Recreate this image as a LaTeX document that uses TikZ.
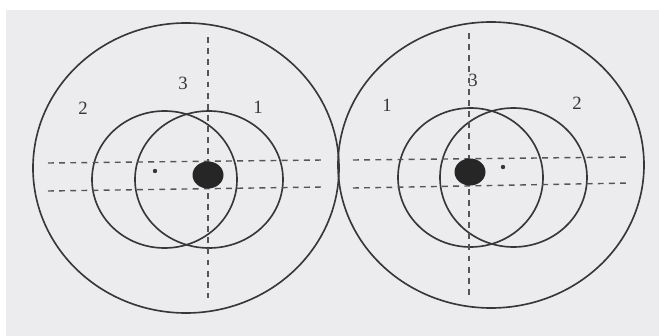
\documentclass[tikz,border=0pt]{standalone}
\usepackage{fontspec}
\setmainfont{Liberation Serif}
\usetikzlibrary{positioning}
\definecolor{paper}{RGB}{236,236,238}
\definecolor{ink}{RGB}{55,55,55}

\begin{document}
\begin{tikzpicture}[
  x=0.03cm, y=-0.03cm,
  ring/.style={ink, line width=1.4pt},
  axis/.style={ink!85, line width=1.2pt, dash pattern=on 5pt off 4.5pt},
  tag/.style={font=\fontsize{16}{18}\selectfont, text=ink, inner sep=0pt},
  core/.style={fill=black!85},
  dotmark/.style={fill=ink},
]
\useasboundingbox (0,0) rectangle (659,336);
\fill[white] (0,0) rectangle (659,336);
\fill[paper] (6,10) rectangle (659,336);

% ---------- LEFT TARGET ----------
\draw[ring] (186,168) ellipse [x radius=153, y radius=145];
\draw[ring] (164.5,179.5) ellipse [x radius=72.5, y radius=68.5];
\draw[ring] (209,179.5) ellipse [x radius=74, y radius=68.5];
\coordinate (lv1) at (208,37);  \coordinate (lv2) at (208,298);
\coordinate (lh1) at (48,163);  \coordinate (lh2) at (323,160);
\coordinate (lh3) at (48,191);  \coordinate (lh4) at (323,187);
\draw[axis] (lv1) -- (lv2);
\draw[axis] (lh1) -- (lh2);
\draw[axis] (lh3) -- (lh4);
\fill[core] (208,175) ellipse [x radius=15.5, y radius=13.5];
\fill[dotmark] (155,171) circle [radius=2.2];
\node[tag] (lthree) at (183,83) {3};
\node[tag] (ltwo) at (83,108) {2};
\node[tag] (lone) at (258,107) {1};

% ---------- RIGHT TARGET ----------
\draw[ring] (491,165) ellipse [x radius=153, y radius=143];
\draw[ring] (470.5,177.5) ellipse [x radius=72.5, y radius=69.5];
\draw[ring] (513.5,177.5) ellipse [x radius=73.5, y radius=69.5];
\coordinate (rv1) at (469,33);  \coordinate (rv2) at (469,297);
\coordinate (rh1) at (353,160); \coordinate (rh2) at (630,157);
\coordinate (rh3) at (353,188); \coordinate (rh4) at (630,183);
\draw[axis] (rv1) -- (rv2);
\draw[axis] (rh1) -- (rh2);
\draw[axis] (rh3) -- (rh4);
\fill[core] (470,172) ellipse [x radius=15.5, y radius=13.5];
\fill[dotmark] (503,167) circle [radius=2.2];
\node[tag] (rthree) at (473,80) {3};
\node[tag] (rone) at (387,105) {1};
\node[tag] (rtwo) at (577,103) {2};

\end{tikzpicture}
\end{document}
